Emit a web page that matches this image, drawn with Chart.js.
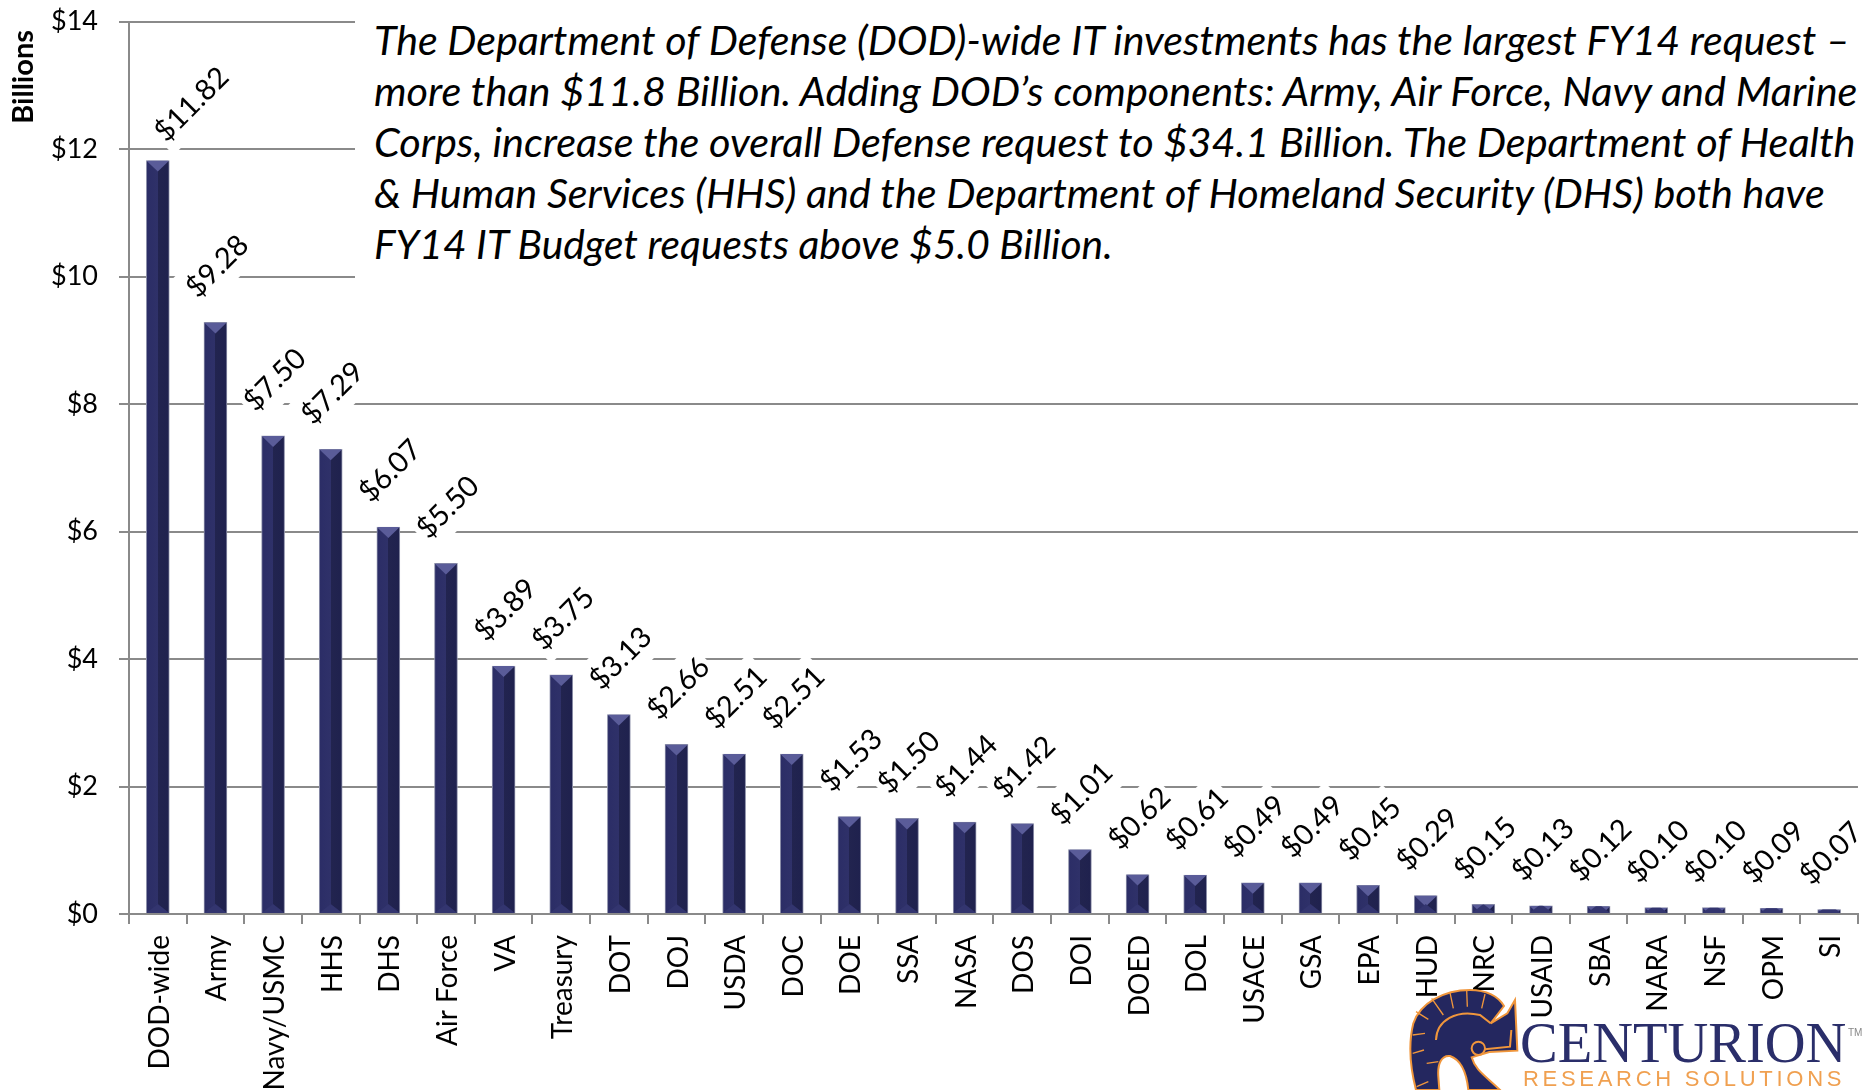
<!DOCTYPE html>
<html>
<head>
<meta charset="utf-8">
<title>FY14 IT Budget Requests</title>
<script src="https://cdn.jsdelivr.net/npm/chart.js@4"></script>
<style>
  html, body { margin: 0; padding: 0; background: #fff; overflow: hidden; }
  #wrap { position: relative; width: 1874px; height: 1090px; }
  #note { position: absolute; left: 355px; top: 8px; width: 1519px; height: 274px; background: #fff; }
  #note div { position: absolute; left: 19px; font: italic 40px Lato; line-height: 51px; white-space: pre; color: #000; transform-origin: left center; }
  #logo { position: absolute; left: 1400px; top: 980px; width: 474px; height: 110px; }
  #logo svg { position: absolute; left: 0; top: 0; }
  #logo span { position: absolute; white-space: pre; line-height: 1; }
</style>
</head>
<body>
<div id="wrap">
  <canvas id="itChart" width="1874" height="1090"></canvas>
  <div id="note"></div>
  <div id="logo">
    <svg width="200" height="110" viewBox="0 0 600 330">
      <path d="M48 330 C30 260 25 190 40 130 C60 70 130 30 210 30 C260 30 295 50 312 78 L272 130 L322 100 L345 60 L352 212 L268 216 L215 232 C225 270 260 290 300 330 L205 330 C200 280 185 240 150 228 C125 225 112 250 115 290 L118 330 Z" fill="#24275f" stroke="#f0963c" stroke-width="6"/>
      <path d="M108 180 C110 120 170 88 240 105 L272 130" fill="none" stroke="#f0963c" stroke-width="6"/>
      <path d="M255 208 L330 200 L334 150" fill="none" stroke="#f0963c" stroke-width="6"/>
      <circle cx="235" cy="205" r="20" fill="#24275f" stroke="#f0963c" stroke-width="6"/>
      <path d="M38 165 L75 160 M48 95 L85 118 M95 55 L130 105 M150 38 L160 85 M200 30 L202 80 M255 42 L245 85 M38 220 L72 210 M80 250 L115 245 M50 320 L85 305" stroke="#f0963c" stroke-width="4" fill="none"/>
    </svg>
    <span style="left:120px;top:31px;font:56.5px 'Liberation Serif';color:#2a2e6a;">CENTURION</span>
    <span style="left:123px;top:86px;font:22px 'Liberation Sans';letter-spacing:3.7px;color:#f0a050;">RESEARCH SOLUTIONS</span>
    <span style="left:448px;top:47px;font:10px 'Liberation Sans';color:#888;">TM</span>
  </div>
</div>
<script>
const categories = ['DOD-wide', 'Army', 'Navy/USMC', 'HHS', 'DHS', 'Air Force', 'VA', 'Treasury', 'DOT', 'DOJ',
  'USDA', 'DOC', 'DOE', 'SSA', 'NASA', 'DOS', 'DOI', 'DOED', 'DOL', 'USACE',
  'GSA', 'EPA', 'HUD', 'NRC', 'USAID', 'SBA', 'NARA', 'NSF', 'OPM', 'SI'];
const requestValues = [11.82, 9.28, 7.50, 7.29, 6.07, 5.50, 3.89, 3.75, 3.13, 2.66,
  2.51, 2.51, 1.53, 1.50, 1.44, 1.42, 1.01, 0.62, 0.61, 0.49,
  0.49, 0.45, 0.29, 0.15, 0.13, 0.12, 0.10, 0.10, 0.09, 0.07];
const yTicks = [0, 2, 4, 6, 8, 10, 12, 14];
const yAxisTitle = 'Billions';
const noteLines = [
  'The Department of Defense (DOD)-wide IT investments has the largest FY14 request \u2013',
  'more than $11.8 Billion. Adding DOD\u2019s components: Army, Air Force, Navy and Marine',
  'Corps, increase the overall Defense request to $34.1 Billion. The Department of Health',
  '& Human Services (HHS) and the Department of Homeland Security (DHS) both have',
  'FY14 IT Budget requests above $5.0 Billion.'
];

const FONT = 'Lato';
const AXIS_GREY = '#8a8a8a';
const LINE_STRETCH = [1.029, 1.036, 1.036, 1.033, 1.018]; // Lato runs a bit narrow per line

const note = document.getElementById('note');
noteLines.forEach((line, i) => {
  const el = document.createElement('div');
  el.textContent = line;
  el.style.top = (7 + i * 51) + 'px';
  el.style.transform = 'scaleX(' + LINE_STRETCH[i] + ')';
  note.appendChild(el);
});

// bevel on each bar and the rotated value labels with their white boxes
const barLabels = {
  id: 'barLabels',
  afterDatasetsDraw(chart) {
    const { ctx } = chart;
    const bars = chart.getDatasetMeta(0).data;
    ctx.save();
    bars.forEach((bar) => {
      const left = bar.x - bar.width / 2;
      const h = bar.base - bar.y;
      ctx.save();
      ctx.beginPath();
      ctx.rect(left + 1, bar.y, bar.width - 2, h);
      ctx.clip();
      ctx.fillStyle = '#5a5c99';
      ctx.beginPath();
      ctx.moveTo(left, bar.y);
      ctx.lineTo(left + bar.width, bar.y);
      ctx.lineTo(bar.x, bar.y + 11);
      ctx.fill();
      ctx.fillStyle = '#33356f';
      ctx.beginPath();
      ctx.moveTo(left, bar.base);
      ctx.lineTo(left + bar.width, bar.base);
      ctx.lineTo(bar.x, bar.base - 9);
      ctx.fill();
      ctx.restore();
    });
    ctx.font = '29px ' + FONT;
    ctx.textAlign = 'center';
    ctx.textBaseline = 'middle';
    const spots = bars.map((bar, i) => ({
      x: bar.x + (i === 0 ? 34 : 2),
      y: bar.y - 56,
      text: '$' + requestValues[i].toFixed(2)
    }));
    spots.forEach((s) => {
      const w = ctx.measureText(s.text).width + 6;
      ctx.save();
      ctx.translate(s.x, s.y);
      ctx.rotate(-Math.PI / 4);
      ctx.fillStyle = '#fff';
      ctx.fillRect(-w / 2, -23, w, 46);
      ctx.restore();
    });
    ctx.fillStyle = '#000';
    spots.forEach((s) => {
      ctx.save();
      ctx.translate(s.x, s.y);
      ctx.rotate(-Math.PI / 4);
      ctx.fillText(s.text, 0, 0);
      ctx.restore();
    });
    // axis title sits near the top of the axis, not at its end
    ctx.save();
    ctx.translate(24, 30);
    ctx.rotate(-Math.PI / 2);
    ctx.font = 'bold 29px ' + FONT;
    ctx.textAlign = 'right';
    ctx.fillText(yAxisTitle, 0, 0);
    ctx.restore();
    ctx.restore();
  }
};

function barFace(context) {
  const { chart, dataIndex } = context;
  if (!chart.chartArea) return '#2a2c62';
  const cx = chart.scales.x.getPixelForValue(dataIndex);
  const g = chart.ctx.createLinearGradient(cx - 12, 0, cx + 12, 0);
  g.addColorStop(0, '#2b2d66');
  g.addColorStop(0.5, '#2f3169');
  g.addColorStop(0.5, '#22244f');
  g.addColorStop(1, '#1f214e');
  return g;
}

new Chart(document.getElementById('itChart'), {
  type: 'bar',
  data: {
    labels: categories,
    datasets: [{
      label: 'FY14 IT request',
      data: requestValues,
      backgroundColor: barFace,
      borderColor: '#8f92ab',
      borderWidth: 1,
      barThickness: 23
    }]
  },
  options: {
    responsive: false,
    animation: false,
    layout: { padding: { top: 21.5, right: 15, left: 0, bottom: 0 } },
    plugins: { legend: { display: false }, tooltip: { enabled: false } },
    scales: {
      x: {
        afterFit(scale) { scale.height = 176; },
        grid: { drawOnChartArea: false, color: AXIS_GREY, lineWidth: 2, tickLength: 10 },
        border: { color: AXIS_GREY, width: 2 },
        ticks: {
          autoSkip: false, minRotation: 90, maxRotation: 90, padding: 11, labelOffset: 2,
          color: '#000', font: { family: FONT, size: 28 }
        }
      },
      y: {
        min: 0,
        max: 14,
        afterFit(scale) { scale.width = 129; scale.paddingTop = 0; },
        afterBuildTicks(scale) { scale.ticks = yTicks.map((v) => ({ value: v })); },
        grid: { color: AXIS_GREY, lineWidth: 2, tickLength: 10 },
        border: { color: AXIS_GREY, width: 2 },
        ticks: {
          padding: 21, color: '#000', font: { family: FONT, size: 27 },
          callback: (v) => '$' + v
        }
      }
    }
  },
  plugins: [barLabels]
});
</script>
</body>
</html>
